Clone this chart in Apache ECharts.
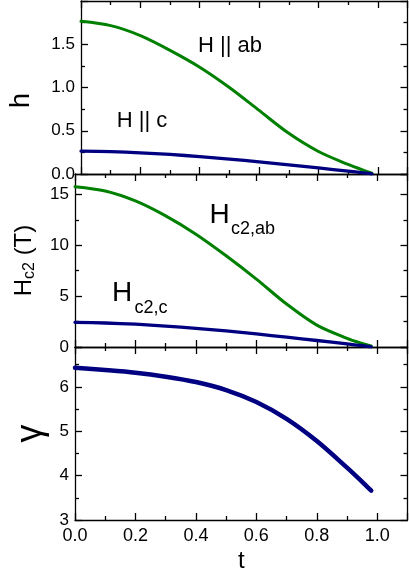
<!DOCTYPE html>
<html>
<head>
<meta charset="utf-8">
<script src="https://cdn.jsdelivr.net/npm/echarts@6/dist/echarts.min.js"></script>
<style>
  html, body { margin: 0; padding: 0; background: #fff; }
  #chart { width: 409px; height: 578px; }
</style>
</head>
<body>
<div id="chart"></div>
<script>
// reduced temperature t = T/Tc
var tValues = [0, 0.1, 0.2, 0.3, 0.4, 0.5, 0.6, 0.7, 0.8, 0.9, 0.95, 0.98]
// panel 1: reduced field h
var hAb = [1.765, 1.715, 1.60, 1.43, 1.235, 1.0, 0.735, 0.47, 0.26, 0.11, 0.045, 0.01]
var hC = [0.265, 0.258, 0.245, 0.226, 0.201, 0.173, 0.140, 0.106, 0.070, 0.033, 0.014, 0.002]
// panel 2: Hc2 (T)
var hc2Ab = [15.75, 15.33, 14.35, 12.88, 11.08, 8.96, 6.67, 4.22, 2.15, 0.85, 0.35, 0.1]
var hc2C = [2.42, 2.36, 2.24, 2.06, 1.84, 1.58, 1.28, 0.97, 0.64, 0.30, 0.13, 0.02]
// panel 3: anisotropy gamma
var gamma = [6.43, 6.38, 6.32, 6.23, 6.11, 5.93, 5.66, 5.28, 4.78, 4.18, 3.86, 3.66]

var FONT = 'Liberation Sans, Arial, sans-serif'
var GREEN = '#008000'
var NAVY = '#000080'

function pairs(ys) {
  return tValues.map(function(t, i) { return [t, ys[i]] })
}

var axisLine = { show: true, onZero: false, lineStyle: { color: '#000', width: 1.3 } }

function xAxis(grid, position, showLabel) {
  return {
    type: 'value',
    gridIndex: grid,
    position: position,
    min: 0,
    max: 1.1,
    interval: 0.2,
    axisLine: axisLine,
    axisTick: { show: true, inside: true, length: 7, lineStyle: { color: '#000', width: 1.3 } },
    minorTick: { show: true, splitNumber: 2, length: 4, lineStyle: { color: '#000', width: 1.3 } },
    splitLine: { show: false },
    axisLabel: {
      show: showLabel,
      showMaxLabel: false,
      margin: 7,
      color: '#000',
      fontSize: 18,
      fontFamily: FONT,
      formatter: function(v) { return v.toFixed(1) }
    },
    name: showLabel ? 't' : '',
    nameLocation: 'middle',
    nameGap: 29,
    nameTextStyle: { color: '#000', fontSize: 24, fontFamily: FONT }
  }
}

function yAxis(grid, position, min, max, interval, minorSplit, digits, name) {
  var left = position === 'left'
  return {
    type: 'value',
    gridIndex: grid,
    position: position,
    min: min,
    max: max,
    interval: interval,
    axisLine: axisLine,
    axisTick: { show: true, inside: true, length: 7, lineStyle: { color: '#000', width: 1.3 } },
    minorTick: { show: true, splitNumber: minorSplit, length: 4, lineStyle: { color: '#000', width: 1.3 } },
    splitLine: { show: false },
    axisLabel: {
      show: left,
      showMaxLabel: false,
      margin: 6,
      color: '#000',
      fontSize: 17,
      fontFamily: FONT,
      formatter: function(v) { return v.toFixed(digits) }
    },
    name: left ? name.text : '',
    nameLocation: 'middle',
    nameGap: left ? name.gap : 0,
    nameTextStyle: name ? name.style : {}
  }
}

function curve(axis, ys, color, width) {
  return {
    type: 'line',
    xAxisIndex: axis,
    yAxisIndex: axis,
    data: pairs(ys),
    smooth: 0.3,
    showSymbol: false,
    lineStyle: { color: color, width: width, cap: 'round' }
  }
}

var chart = echarts.init(document.getElementById('chart'))

var option = {
  animation: false,
  backgroundColor: '#fff',
  grid: [
    { left: 75, right: 1.5, top: 1, height: 173 },
    { left: 75, right: 1.5, top: 174, height: 173 },
    { left: 75, right: 1.5, top: 347, height: 173 }
  ],
  xAxis: [
    xAxis(0, 'bottom', false), xAxis(0, 'top', false),
    xAxis(1, 'bottom', false), xAxis(1, 'top', false),
    xAxis(2, 'bottom', true), xAxis(2, 'top', false)
  ],
  yAxis: [
    yAxis(0, 'left', 0, 2, 0.5, 2, 1, {
      text: 'h', gap: 46,
      style: { color: '#000', fontSize: 27, fontFamily: FONT, padding: [0, 26, 0, 0] }
    }),
    yAxis(0, 'right', 0, 2, 0.5, 2, 1, null),
    yAxis(1, 'left', 0, 17, 5, 2, 0, {
      text: '{a|H}{b|c2}{a| (T)}', gap: 37,
      style: {
        color: '#000',
        fontFamily: FONT,
        rich: {
          a: { fontSize: 24, fontFamily: FONT, color: '#000', verticalAlign: 'top', lineHeight: 26 },
          b: { fontSize: 16, fontFamily: FONT, color: '#000', verticalAlign: 'bottom', lineHeight: 17, padding: [12, 0, 0, 0] }
        }
      }
    }),
    yAxis(1, 'right', 0, 17, 5, 2, 0, null),
    yAxis(2, 'left', 3, 6.9, 1, 2, 0, {
      text: 'γ', gap: 18,
      style: { color: '#000', fontSize: 36, fontFamily: FONT }
    }),
    yAxis(2, 'right', 3, 6.9, 1, 2, 0, null)
  ],
  series: [
    curve(0, hAb, GREEN, 3),
    curve(0, hC, NAVY, 3.3),
    curve(2, hc2Ab, GREEN, 3),
    curve(2, hc2C, NAVY, 3.3),
    curve(4, gamma, NAVY, 4.5)
  ],
  graphic: [
    { type: 'text', x: 230, y: 46, style: { text: 'H || ab', font: '22px ' + FONT, fill: '#000', align: 'center', verticalAlign: 'middle' } },
    { type: 'text', x: 142, y: 121, style: { text: 'H || c', font: '22px ' + FONT, fill: '#000', align: 'center', verticalAlign: 'middle' } },
    { type: 'text', x: 209.5, y: 215.3, style: { text: 'H', font: '28px ' + FONT, fill: '#000', align: 'left', verticalAlign: 'middle' } },
    { type: 'text', x: 231, y: 229.5, style: { text: 'c2,ab', font: '18px ' + FONT, fill: '#000', align: 'left', verticalAlign: 'middle' } },
    { type: 'text', x: 112, y: 293.7, style: { text: 'H', font: '28px ' + FONT, fill: '#000', align: 'left', verticalAlign: 'middle' } },
    { type: 'text', x: 134.5, y: 308, style: { text: 'c2,c', font: '18px ' + FONT, fill: '#000', align: 'left', verticalAlign: 'middle' } }
  ]
}

chart.setOption(option)
</script>
</body>
</html>
